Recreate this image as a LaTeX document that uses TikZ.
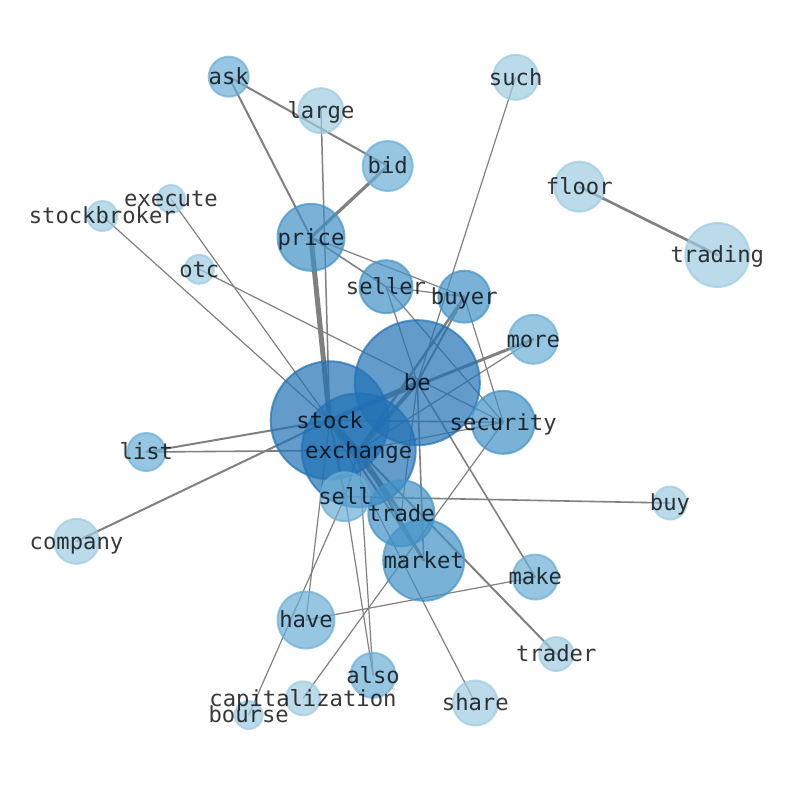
\documentclass[tikz,border=0pt]{standalone}
\usepackage{fontspec}
\setmonofont{DejaVu Sans Mono}
\usetikzlibrary{backgrounds}
\definecolor{bA}{RGB}{158,202,225}
\definecolor{bB}{RGB}{107,174,214}
\definecolor{bC}{RGB}{66,146,198}
\definecolor{bD}{RGB}{33,113,181}
\definecolor{edgegray}{RGB}{128,128,128}
\begin{document}
\begin{tikzpicture}[x=1pt,y=-1pt,
  bub/.style 2 args={circle, inner sep=0pt, outer sep=0pt, fill=#1, draw=#1,
    fill opacity=0.7, draw opacity=0.7, line width=2pt, minimum size=#2},
  lbl/.style={inner sep=0pt, text height=16.9pt, text depth=5.3pt, yshift=-2pt,
    font=\ttfamily\fontsize{22.2}{26}\selectfont, text=black, text opacity=0.78},
  edge/.style={draw=edgegray, line cap=round}]
\useasboundingbox (0,0) rectangle (794,790);
% nodes (circles)
\node[bub={bB}{40}] (ask) at (228.7,76.7) {};
\node[bub={bA}{45}] (large) at (321,110.7) {};
\node[bub={bA}{45}] (such) at (515.7,77.3) {};
\node[bub={bB}{50}] (bid) at (387.7,166) {};
\node[bub={bA}{50}] (floor) at (579.3,186.7) {};
\node[bub={bA}{28}] (execute) at (171,199) {};
\node[bub={bA}{30}] (stockbroker) at (102.3,216) {};
\node[bub={bC}{67}] (price) at (311,237.3) {};
\node[bub={bA}{64}] (trading) at (717.3,255) {};
\node[bub={bA}{29}] (otc) at (199.3,269.3) {};
\node[bub={bC}{53}] (seller) at (386,286.7) {};
\node[bub={bC}{52}] (buyer) at (464.3,296.7) {};
\node[bub={bB}{49}] (more) at (533.3,339.3) {};
\node[bub={bD}{125}] (be) at (417.3,382.7) {};
\node[bub={bD}{118}] (stock) at (329.7,420.3) {};
\node[bub={bC}{63}] (security) at (503.2,422.3) {};
\node[bub={bD}{114}] (exchange) at (358.7,450.3) {};
\node[bub={bB}{38}] (list) at (146.3,452) {};
\node[bub={bB}{49}] (sell) at (345,496.7) {};
\node[bub={bA}{33}] (buy) at (670,503) {};
\node[bub={bC}{66}] (trade) at (401.3,513.3) {};
\node[bub={bA}{45}] (company) at (76.5,541.3) {};
\node[bub={bC}{81}] (market) at (423.7,560.3) {};
\node[bub={bB}{45}] (make) at (535.3,577) {};
\node[bub={bB}{57}] (have) at (306,620) {};
\node[bub={bA}{34}] (trader) at (556.3,654) {};
\node[bub={bB}{45}] (also) at (373,675.3) {};
\node[bub={bA}{34}] (capitalization) at (303,698.3) {};
\node[bub={bA}{45}] (share) at (475.3,703) {};
\node[bub={bA}{28}] (bourse) at (248.7,715) {};
% edges
\begin{pgfonlayer}{background}
\foreach \a/\b/\w in {
  ask/bid/2, ask/price/2, large/stock/1.5, bid/price/3.2, such/be/1.2,
  floor/trading/2.6, execute/stock/1.2, stockbroker/stock/1.2,
  price/stock/5, price/seller/1.6, price/buyer/1.2,
  seller/buyer/1.2, otc/security/1.2, seller/be/1.2, seller/security/1.2,
  buyer/security/1.2, buyer/exchange/2.5, buyer/be/2,
  more/stock/3, more/exchange/1.2, be/stock/4, be/exchange/4,
  be/make/1.6, be/market/1.6, be/trade/1.2, security/stock/1.6,
  security/exchange/1.2, capitalization/security/1.2, stock/exchange/4,
  list/stock/2, list/exchange/1.6, company/stock/2,
  stock/trade/2, exchange/trade/3, stock/market/2, exchange/market/3,
  stock/trader/2, stock/share/1.2, sell/buy/1.6, sell/also/1.2,
  exchange/also/1.2, stock/have/1.2, sell/bourse/1.2, have/make/1.2,
  stock/sell/2, exchange/sell/2}
  \draw[edge, line width=\w pt] (\a.center) -- (\b.center);
\end{pgfonlayer}
% labels
\foreach \n in {ask,large,such,bid,floor,execute,stockbroker,price,trading,otc,
  seller,buyer,more,be,stock,security,exchange,list,sell,buy,trade,company,
  market,make,have,trader,also,capitalization,share,bourse}
  \node[lbl] (\n-label) at (\n.center) {\n};
\end{tikzpicture}
\end{document}
